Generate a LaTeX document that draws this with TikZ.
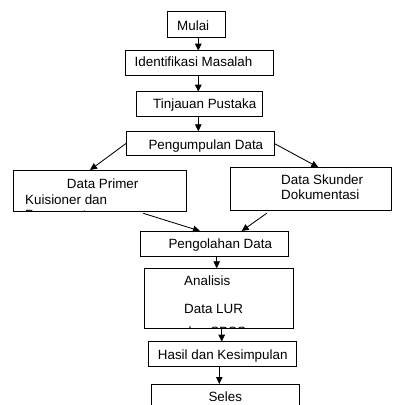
\documentclass[tikz,border=0pt]{standalone}
\usepackage{fontspec}
\setmainfont{Liberation Sans}
\usetikzlibrary{arrows.meta,calc}
\begin{document}
\begin{tikzpicture}[x=1pt,y=-1pt,
  box/.style={draw=black,line width=0.85pt,inner sep=0pt,outer sep=0pt,anchor=north west},
  lbl/.style={anchor=base west,inner sep=0pt,font=\fontsize{13.4}{16}\selectfont},
  arr/.style={draw=black,line width=0.85pt,-{Triangle[length=7pt,width=6.5pt]}}]
\clip (0,0) rectangle (392,405);
% boxes
\node[box,minimum width=58.4pt,minimum height=25.6pt] (mulai) at (167.3,11.7) {};
\node[box,minimum width=148.4pt,minimum height=24.6pt] (ident) at (125.3,50.7) {};
\node[box,minimum width=126pt,minimum height=25pt] (tinj) at (136,91.7) {};
\node[box,minimum width=148.3pt,minimum height=24.4pt] (peng) at (126,131.3) {};
\node[box,minimum width=172.7pt,minimum height=41pt] (prim) at (13.3,170) {};
\node[box,minimum width=161.3pt,minimum height=43.4pt] (skun) at (230,167.3) {};
\node[box,minimum width=148.3pt,minimum height=25.7pt] (olah) at (140,231) {};
\node[box,minimum width=148.7pt,minimum height=60.4pt] (anal) at (144.3,268.3) {};
\node[box,minimum width=148pt,minimum height=24.3pt] (hasil) at (148.3,341.7) {};
\node[box,minimum width=148pt,minimum height=30pt] (seles) at (151,384) {};
% texts
\node[lbl] (tmulai) at (177,30) {Mulai};
\node[lbl] (tident) at (134.5,66.4) {Identifikasi Masalah};
\node[lbl] (ttinj) at (153,108.7) {Tinjauan Pustaka};
\node[lbl] (tpeng) at (148.3,149.7) {Pengumpulan Data};
\begin{scope}
  \clip (prim.north west) rectangle (prim.south east);
  \node[lbl] (tprim1) at (66.7,188) {Data Primer};
  \node[lbl] (tprim2) at (25,204) {Kuisioner dan};
  \node[lbl] (tprim3) at (25,219) {Pengamatan};
\end{scope}
\node[lbl] (tskun1) at (281,184.7) {Data Skunder};
\node[lbl] (tskun2) at (281,199.7) {Dokumentasi};
\node[lbl] (tolah) at (168.3,248) {Pengolahan Data};
\begin{scope}
  \clip (anal.north west) rectangle (anal.south east);
  \node[lbl] (tanal1) at (184,285.4) {Analisis};
  \node[lbl] (tanal2) at (184,313) {Data LUR};
  \node[lbl] (tanal3) at (184,336) {dan SPSS};
\end{scope}
\node[lbl] (thasil) at (157.7,359) {Hasil dan Kesimpulan};
\node[lbl] (tseles) at (208.3,401.4) {Seles};
% x positions of connectors
\coordinate (xa) at (198.3,0);
\coordinate (xb) at (90,0);
\coordinate (xc) at (318.3,0);
\coordinate (xd) at (143.3,0);
\coordinate (xe) at (200,0);
\coordinate (xf) at (266.7,0);
\coordinate (xg) at (241.7,0);
\coordinate (xh) at (216.7,0);
\coordinate (xi) at (221.7,0);
\coordinate (xj) at (219.3,0);
% connectors
\draw[arr] (mulai.south -| xa) -- (ident.north -| xa);
\draw[arr] (ident.south -| xa) -- (tinj.north -| xa);
\draw[arr] (tinj.south -| xa) -- (peng.north -| xa);
\draw[arr] (peng.west) -- (prim.north -| xb);
\draw[arr] (peng.east) -- (skun.north -| xc);
\draw[arr] ($(prim.south -| xd)+(0,2.3)$) -- (olah.north -| xe);
\draw[arr] ($(skun.south -| xf)+(0,2.6)$) -- (olah.north -| xg);
\draw[arr] (olah.south -| xh) -- (anal.north -| xh);
\draw[arr] (anal.south -| xi) -- (hasil.north -| xi);
\draw[arr] (hasil.south -| xj) -- (seles.north -| xj);
\end{tikzpicture}
\end{document}
